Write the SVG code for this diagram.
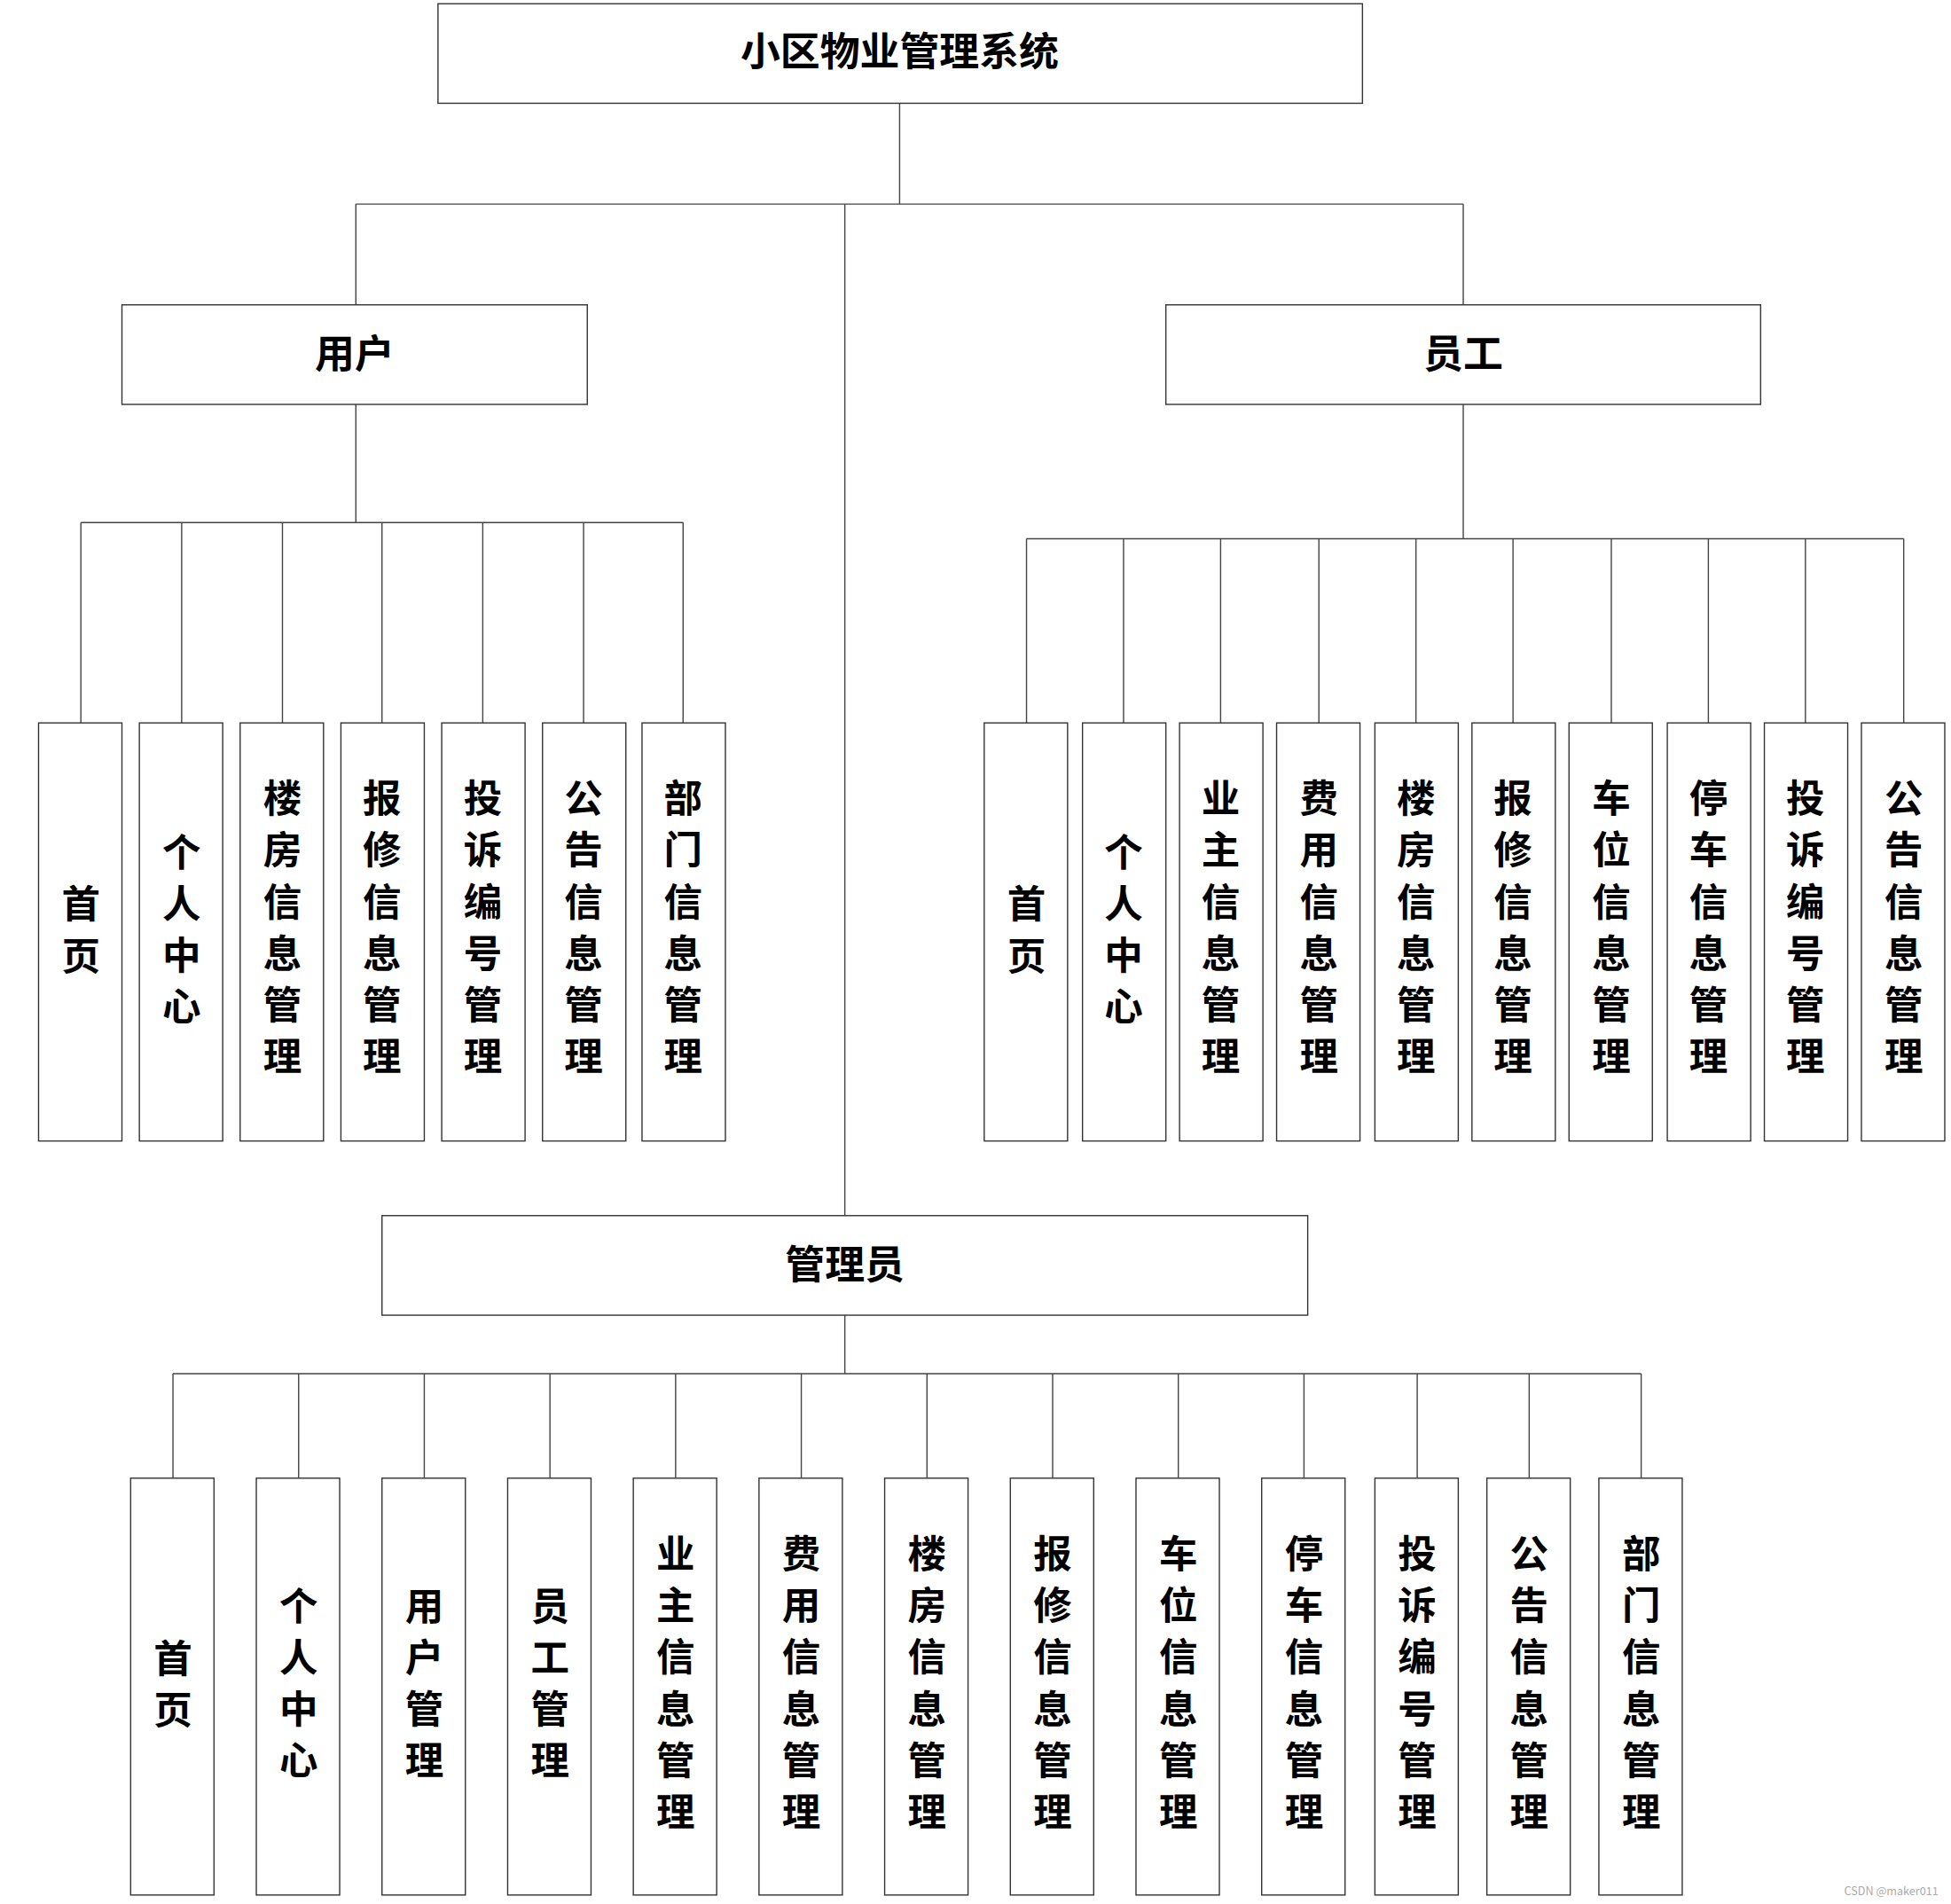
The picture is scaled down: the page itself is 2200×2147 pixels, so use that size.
<svg xmlns="http://www.w3.org/2000/svg" width="2200" height="2147" viewBox="0 0 2200 2147">
<style>
.b{fill:#fff;stroke:#333;stroke-width:1}
.c{fill:none;stroke:#444;stroke-width:1}
text{font-family:"Noto Sans CJK SC","Noto Sans",sans-serif;font-weight:bold;fill:#000;text-anchor:middle}
.t{font-size:31px}
.h{font-size:32px}
</style>
<rect width="2200" height="2147" fill="#fff"/>
<g transform="scale(1.40306)">
<g id="connectors">
<path class="c" d="M723 83V164M286 164H1176M286 164V245M1176 164V245M679 164V977"/>
<path class="c" d="M286 325V420M65 420H549M65 420V581M146 420V581M227 420V581M307 420V581M388 420V581M469 420V581M549 420V581"/>
<path class="c" d="M1176 325V433M825 433H1530M825 433V581M903 433V581M981 433V581M1060 433V581M1138 433V581M1216 433V581M1295 433V581M1373 433V581M1451 433V581M1530 433V581"/>
<path class="c" d="M679 1057V1104M139 1104H1319M139 1104V1188M240 1104V1188M341 1104V1188M442 1104V1188M543 1104V1188M644 1104V1188M745 1104V1188M846 1104V1188M947 1104V1188M1048 1104V1188M1139 1104V1188M1229 1104V1188M1319 1104V1188"/>
</g>
<g id="root"><rect class="b" x="352" y="3" width="743" height="80"/><text class="h" x="723" y="53">小区物业管理系统</text></g>
<g id="user"><rect class="b" x="98" y="245" width="374" height="80"/><text class="h" x="285" y="296">用户</text></g>
<g id="staff"><rect class="b" x="937" y="245" width="478" height="80"/><text class="h" x="1176" y="296">员工</text></g>
<g id="admin"><rect class="b" x="307" y="977" width="744" height="80"/><text class="h" x="679" y="1028">管理员</text></g>

<g id="u1"><rect class="b" x="31" y="581" width="67" height="336"/><text class="t" x="65" y="738"><tspan x="65">首</tspan><tspan x="65" dy="41.5">页</tspan></text></g>
<g id="u2"><rect class="b" x="112" y="581" width="67" height="336"/><text class="t" x="146" y="696"><tspan x="146">个</tspan><tspan x="146" dy="41.5">人</tspan><tspan x="146" dy="41.5">中</tspan><tspan x="146" dy="41.5">心</tspan></text></g>
<g id="u3"><rect class="b" x="193" y="581" width="67" height="336"/><text class="t" x="227" y="653"><tspan x="227">楼</tspan><tspan x="227" dy="41.5">房</tspan><tspan x="227" dy="41.5">信</tspan><tspan x="227" dy="41.5">息</tspan><tspan x="227" dy="41.5">管</tspan><tspan x="227" dy="41.5">理</tspan></text></g>
<g id="u4"><rect class="b" x="274" y="581" width="67" height="336"/><text class="t" x="307" y="653"><tspan x="307">报</tspan><tspan x="307" dy="41.5">修</tspan><tspan x="307" dy="41.5">信</tspan><tspan x="307" dy="41.5">息</tspan><tspan x="307" dy="41.5">管</tspan><tspan x="307" dy="41.5">理</tspan></text></g>
<g id="u5"><rect class="b" x="355" y="581" width="67" height="336"/><text class="t" x="388" y="653"><tspan x="388">投</tspan><tspan x="388" dy="41.5">诉</tspan><tspan x="388" dy="41.5">编</tspan><tspan x="388" dy="41.5">号</tspan><tspan x="388" dy="41.5">管</tspan><tspan x="388" dy="41.5">理</tspan></text></g>
<g id="u6"><rect class="b" x="436" y="581" width="67" height="336"/><text class="t" x="469" y="653"><tspan x="469">公</tspan><tspan x="469" dy="41.5">告</tspan><tspan x="469" dy="41.5">信</tspan><tspan x="469" dy="41.5">息</tspan><tspan x="469" dy="41.5">管</tspan><tspan x="469" dy="41.5">理</tspan></text></g>
<g id="u7"><rect class="b" x="516" y="581" width="67" height="336"/><text class="t" x="549" y="653"><tspan x="549">部</tspan><tspan x="549" dy="41.5">门</tspan><tspan x="549" dy="41.5">信</tspan><tspan x="549" dy="41.5">息</tspan><tspan x="549" dy="41.5">管</tspan><tspan x="549" dy="41.5">理</tspan></text></g>

<g id="s1"><rect class="b" x="791" y="581" width="67" height="336"/><text class="t" x="825" y="738"><tspan x="825">首</tspan><tspan x="825" dy="41.5">页</tspan></text></g>
<g id="s2"><rect class="b" x="870" y="581" width="67" height="336"/><text class="t" x="903" y="696"><tspan x="903">个</tspan><tspan x="903" dy="41.5">人</tspan><tspan x="903" dy="41.5">中</tspan><tspan x="903" dy="41.5">心</tspan></text></g>
<g id="s3"><rect class="b" x="948" y="581" width="67" height="336"/><text class="t" x="981" y="653"><tspan x="981">业</tspan><tspan x="981" dy="41.5">主</tspan><tspan x="981" dy="41.5">信</tspan><tspan x="981" dy="41.5">息</tspan><tspan x="981" dy="41.5">管</tspan><tspan x="981" dy="41.5">理</tspan></text></g>
<g id="s4"><rect class="b" x="1026" y="581" width="67" height="336"/><text class="t" x="1060" y="653"><tspan x="1060">费</tspan><tspan x="1060" dy="41.5">用</tspan><tspan x="1060" dy="41.5">信</tspan><tspan x="1060" dy="41.5">息</tspan><tspan x="1060" dy="41.5">管</tspan><tspan x="1060" dy="41.5">理</tspan></text></g>
<g id="s5"><rect class="b" x="1105" y="581" width="67" height="336"/><text class="t" x="1138" y="653"><tspan x="1138">楼</tspan><tspan x="1138" dy="41.5">房</tspan><tspan x="1138" dy="41.5">信</tspan><tspan x="1138" dy="41.5">息</tspan><tspan x="1138" dy="41.5">管</tspan><tspan x="1138" dy="41.5">理</tspan></text></g>
<g id="s6"><rect class="b" x="1183" y="581" width="67" height="336"/><text class="t" x="1216" y="653"><tspan x="1216">报</tspan><tspan x="1216" dy="41.5">修</tspan><tspan x="1216" dy="41.5">信</tspan><tspan x="1216" dy="41.5">息</tspan><tspan x="1216" dy="41.5">管</tspan><tspan x="1216" dy="41.5">理</tspan></text></g>
<g id="s7"><rect class="b" x="1261" y="581" width="67" height="336"/><text class="t" x="1295" y="653"><tspan x="1295">车</tspan><tspan x="1295" dy="41.5">位</tspan><tspan x="1295" dy="41.5">信</tspan><tspan x="1295" dy="41.5">息</tspan><tspan x="1295" dy="41.5">管</tspan><tspan x="1295" dy="41.5">理</tspan></text></g>
<g id="s8"><rect class="b" x="1340" y="581" width="67" height="336"/><text class="t" x="1373" y="653"><tspan x="1373">停</tspan><tspan x="1373" dy="41.5">车</tspan><tspan x="1373" dy="41.5">信</tspan><tspan x="1373" dy="41.5">息</tspan><tspan x="1373" dy="41.5">管</tspan><tspan x="1373" dy="41.5">理</tspan></text></g>
<g id="s9"><rect class="b" x="1418" y="581" width="67" height="336"/><text class="t" x="1451" y="653"><tspan x="1451">投</tspan><tspan x="1451" dy="41.5">诉</tspan><tspan x="1451" dy="41.5">编</tspan><tspan x="1451" dy="41.5">号</tspan><tspan x="1451" dy="41.5">管</tspan><tspan x="1451" dy="41.5">理</tspan></text></g>
<g id="s10"><rect class="b" x="1496" y="581" width="67" height="336"/><text class="t" x="1530" y="653"><tspan x="1530">公</tspan><tspan x="1530" dy="41.5">告</tspan><tspan x="1530" dy="41.5">信</tspan><tspan x="1530" dy="41.5">息</tspan><tspan x="1530" dy="41.5">管</tspan><tspan x="1530" dy="41.5">理</tspan></text></g>

<g id="a1"><rect class="b" x="105" y="1188" width="67" height="335"/><text class="t" x="139" y="1344"><tspan x="139">首</tspan><tspan x="139" dy="41.5">页</tspan></text></g>
<g id="a2"><rect class="b" x="206" y="1188" width="67" height="335"/><text class="t" x="240" y="1302"><tspan x="240">个</tspan><tspan x="240" dy="41.5">人</tspan><tspan x="240" dy="41.5">中</tspan><tspan x="240" dy="41.5">心</tspan></text></g>
<g id="a3"><rect class="b" x="307" y="1188" width="67" height="335"/><text class="t" x="341" y="1302"><tspan x="341">用</tspan><tspan x="341" dy="41.5">户</tspan><tspan x="341" dy="41.5">管</tspan><tspan x="341" dy="41.5">理</tspan></text></g>
<g id="a4"><rect class="b" x="408" y="1188" width="67" height="335"/><text class="t" x="442" y="1302"><tspan x="442">员</tspan><tspan x="442" dy="41.5">工</tspan><tspan x="442" dy="41.5">管</tspan><tspan x="442" dy="41.5">理</tspan></text></g>
<g id="a5"><rect class="b" x="509" y="1188" width="67" height="335"/><text class="t" x="543" y="1260"><tspan x="543">业</tspan><tspan x="543" dy="41.5">主</tspan><tspan x="543" dy="41.5">信</tspan><tspan x="543" dy="41.5">息</tspan><tspan x="543" dy="41.5">管</tspan><tspan x="543" dy="41.5">理</tspan></text></g>
<g id="a6"><rect class="b" x="610" y="1188" width="67" height="335"/><text class="t" x="644" y="1260"><tspan x="644">费</tspan><tspan x="644" dy="41.5">用</tspan><tspan x="644" dy="41.5">信</tspan><tspan x="644" dy="41.5">息</tspan><tspan x="644" dy="41.5">管</tspan><tspan x="644" dy="41.5">理</tspan></text></g>
<g id="a7"><rect class="b" x="711" y="1188" width="67" height="335"/><text class="t" x="745" y="1260"><tspan x="745">楼</tspan><tspan x="745" dy="41.5">房</tspan><tspan x="745" dy="41.5">信</tspan><tspan x="745" dy="41.5">息</tspan><tspan x="745" dy="41.5">管</tspan><tspan x="745" dy="41.5">理</tspan></text></g>
<g id="a8"><rect class="b" x="812" y="1188" width="67" height="335"/><text class="t" x="846" y="1260"><tspan x="846">报</tspan><tspan x="846" dy="41.5">修</tspan><tspan x="846" dy="41.5">信</tspan><tspan x="846" dy="41.5">息</tspan><tspan x="846" dy="41.5">管</tspan><tspan x="846" dy="41.5">理</tspan></text></g>
<g id="a9"><rect class="b" x="913" y="1188" width="67" height="335"/><text class="t" x="947" y="1260"><tspan x="947">车</tspan><tspan x="947" dy="41.5">位</tspan><tspan x="947" dy="41.5">信</tspan><tspan x="947" dy="41.5">息</tspan><tspan x="947" dy="41.5">管</tspan><tspan x="947" dy="41.5">理</tspan></text></g>
<g id="a10"><rect class="b" x="1014" y="1188" width="67" height="335"/><text class="t" x="1048" y="1260"><tspan x="1048">停</tspan><tspan x="1048" dy="41.5">车</tspan><tspan x="1048" dy="41.5">信</tspan><tspan x="1048" dy="41.5">息</tspan><tspan x="1048" dy="41.5">管</tspan><tspan x="1048" dy="41.5">理</tspan></text></g>
<g id="a11"><rect class="b" x="1105" y="1188" width="67" height="335"/><text class="t" x="1139" y="1260"><tspan x="1139">投</tspan><tspan x="1139" dy="41.5">诉</tspan><tspan x="1139" dy="41.5">编</tspan><tspan x="1139" dy="41.5">号</tspan><tspan x="1139" dy="41.5">管</tspan><tspan x="1139" dy="41.5">理</tspan></text></g>
<g id="a12"><rect class="b" x="1195" y="1188" width="67" height="335"/><text class="t" x="1229" y="1260"><tspan x="1229">公</tspan><tspan x="1229" dy="41.5">告</tspan><tspan x="1229" dy="41.5">信</tspan><tspan x="1229" dy="41.5">息</tspan><tspan x="1229" dy="41.5">管</tspan><tspan x="1229" dy="41.5">理</tspan></text></g>
<g id="a13"><rect class="b" x="1285" y="1188" width="67" height="335"/><text class="t" x="1319" y="1260"><tspan x="1319">部</tspan><tspan x="1319" dy="41.5">门</tspan><tspan x="1319" dy="41.5">信</tspan><tspan x="1319" dy="41.5">息</tspan><tspan x="1319" dy="41.5">管</tspan><tspan x="1319" dy="41.5">理</tspan></text></g>
<text x="1520" y="1523" style="font-size:9px;font-weight:normal;fill:#aaa">CSDN @maker011</text>
</g>
</svg>
